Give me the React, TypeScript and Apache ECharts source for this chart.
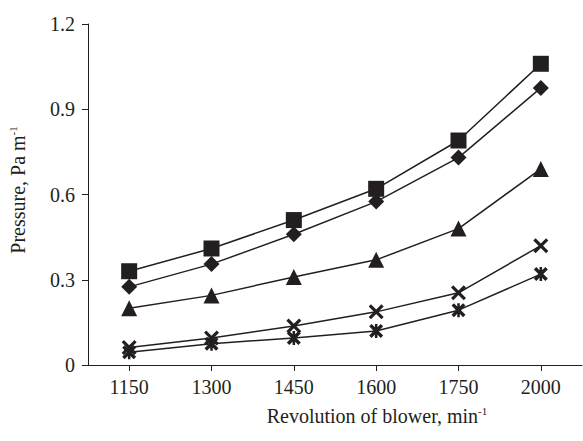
import React, { useEffect, useRef } from "react";
import * as echarts from "echarts";

const categories = ["1150", "1300", "1450", "1600", "1750", "2000"];
const squareSeries = [0.33, 0.41, 0.51, 0.62, 0.79, 1.06];
const diamondSeries = [0.275, 0.355, 0.46, 0.575, 0.73, 0.975];
const triangleSeries = [0.2, 0.245, 0.31, 0.37, 0.48, 0.69];
const crossSeries = [0.062, 0.095, 0.137, 0.187, 0.254, 0.42];
const starSeries = [0.045, 0.075, 0.095, 0.12, 0.193, 0.32];
const yTicks = [0, 0.3, 0.6, 0.9, 1.2];

const INK = "#231f20";
const FONT = "'Liberation Serif', 'DejaVu Serif', serif";

const crossPath =
  "path://M0,3 L3,0 L10,7 L17,0 L20,3 L13,10 L20,17 L17,20 L10,13 L3,20 L0,17 L7,10 Z";
const starPath =
  "path://M0,3.5 L3.5,0 L10,6.5 L16.5,0 L20,3.5 L13.5,10 L20,16.5 L16.5,20 L10,13.5 L3.5,20 L0,16.5 L6.5,10 Z M8.2,0 L11.8,0 L11.8,20 L8.2,20 Z";

function mkSeries(name: string, data: number[], symbol: string, size: number) {
  return {
    name,
    type: "line",
    data,
    symbol,
    symbolSize: size,
    showAllSymbol: true,
    lineStyle: { color: INK, width: 1.5 },
    itemStyle: { color: INK, borderWidth: 0 },
    emphasis: { disabled: true },
  };
}

const richStyles = {
  a: { fontFamily: FONT, fontSize: 20, fill: INK, lineHeight: 22 },
  s: { fontFamily: FONT, fontSize: 11, fill: INK, verticalAlign: "top", lineHeight: 22 },
};

export default function App() {
  const ref = useRef<HTMLDivElement>(null);
  useEffect(() => {
    if (!ref.current) return;
    const chart = echarts.init(ref.current, undefined, { renderer: "svg" });
    chart.setOption({
      animation: false,
      backgroundColor: "#ffffff",
      grid: { left: 88, right: 1, top: 24, bottom: 76, containLabel: false },
      xAxis: {
        type: "category",
        data: categories,
        boundaryGap: true,
        axisLine: { show: true, lineStyle: { color: INK, width: 1 } },
        axisTick: { show: true, alignWithLabel: true, length: 6, lineStyle: { color: INK } },
        axisLabel: { color: INK, fontFamily: FONT, fontSize: 20, margin: 12 },
        splitLine: { show: false },
      },
      yAxis: {
        type: "value",
        min: 0,
        max: 1.2,
        interval: 0.3,
        axisLine: { show: true, lineStyle: { color: INK, width: 1 } },
        axisTick: { show: true, length: 6, lineStyle: { color: INK } },
        axisLabel: {
          color: INK,
          fontFamily: FONT,
          fontSize: 20,
          margin: 13,
          formatter: (v: number) => {
            const t = yTicks.find((x) => Math.abs(x - v) < 1e-9);
            return t === undefined ? "" : String(t);
          },
        },
        splitLine: { show: false },
      },
      graphic: [
        {
          type: "text",
          x: 377,
          y: 416,
          style: {
            text: "{a|Revolution of blower, min}{s|-1}",
            align: "center",
            verticalAlign: "middle",
            fill: INK,
            rich: richStyles,
          },
        },
        {
          type: "text",
          x: 18,
          y: 190,
          rotation: Math.PI / 2,
          style: {
            text: "{a|Pressure, Pa m}{s|-1}",
            align: "center",
            verticalAlign: "middle",
            fill: INK,
            rich: richStyles,
          },
        },
      ],
      series: [
        mkSeries("A", squareSeries, "rect", 16),
        mkSeries("B", diamondSeries, "diamond", 16),
        mkSeries("C", triangleSeries, "triangle", 16),
        mkSeries("D", crossSeries, crossPath, 15),
        mkSeries("E", starSeries, starPath, 14),
      ],
    });
    return () => chart.dispose();
  }, []);
  return (
    <div
      ref={ref}
      style={{ position: "fixed", left: 0, top: 0, width: 583, height: 441 }}
    />
  );
}
